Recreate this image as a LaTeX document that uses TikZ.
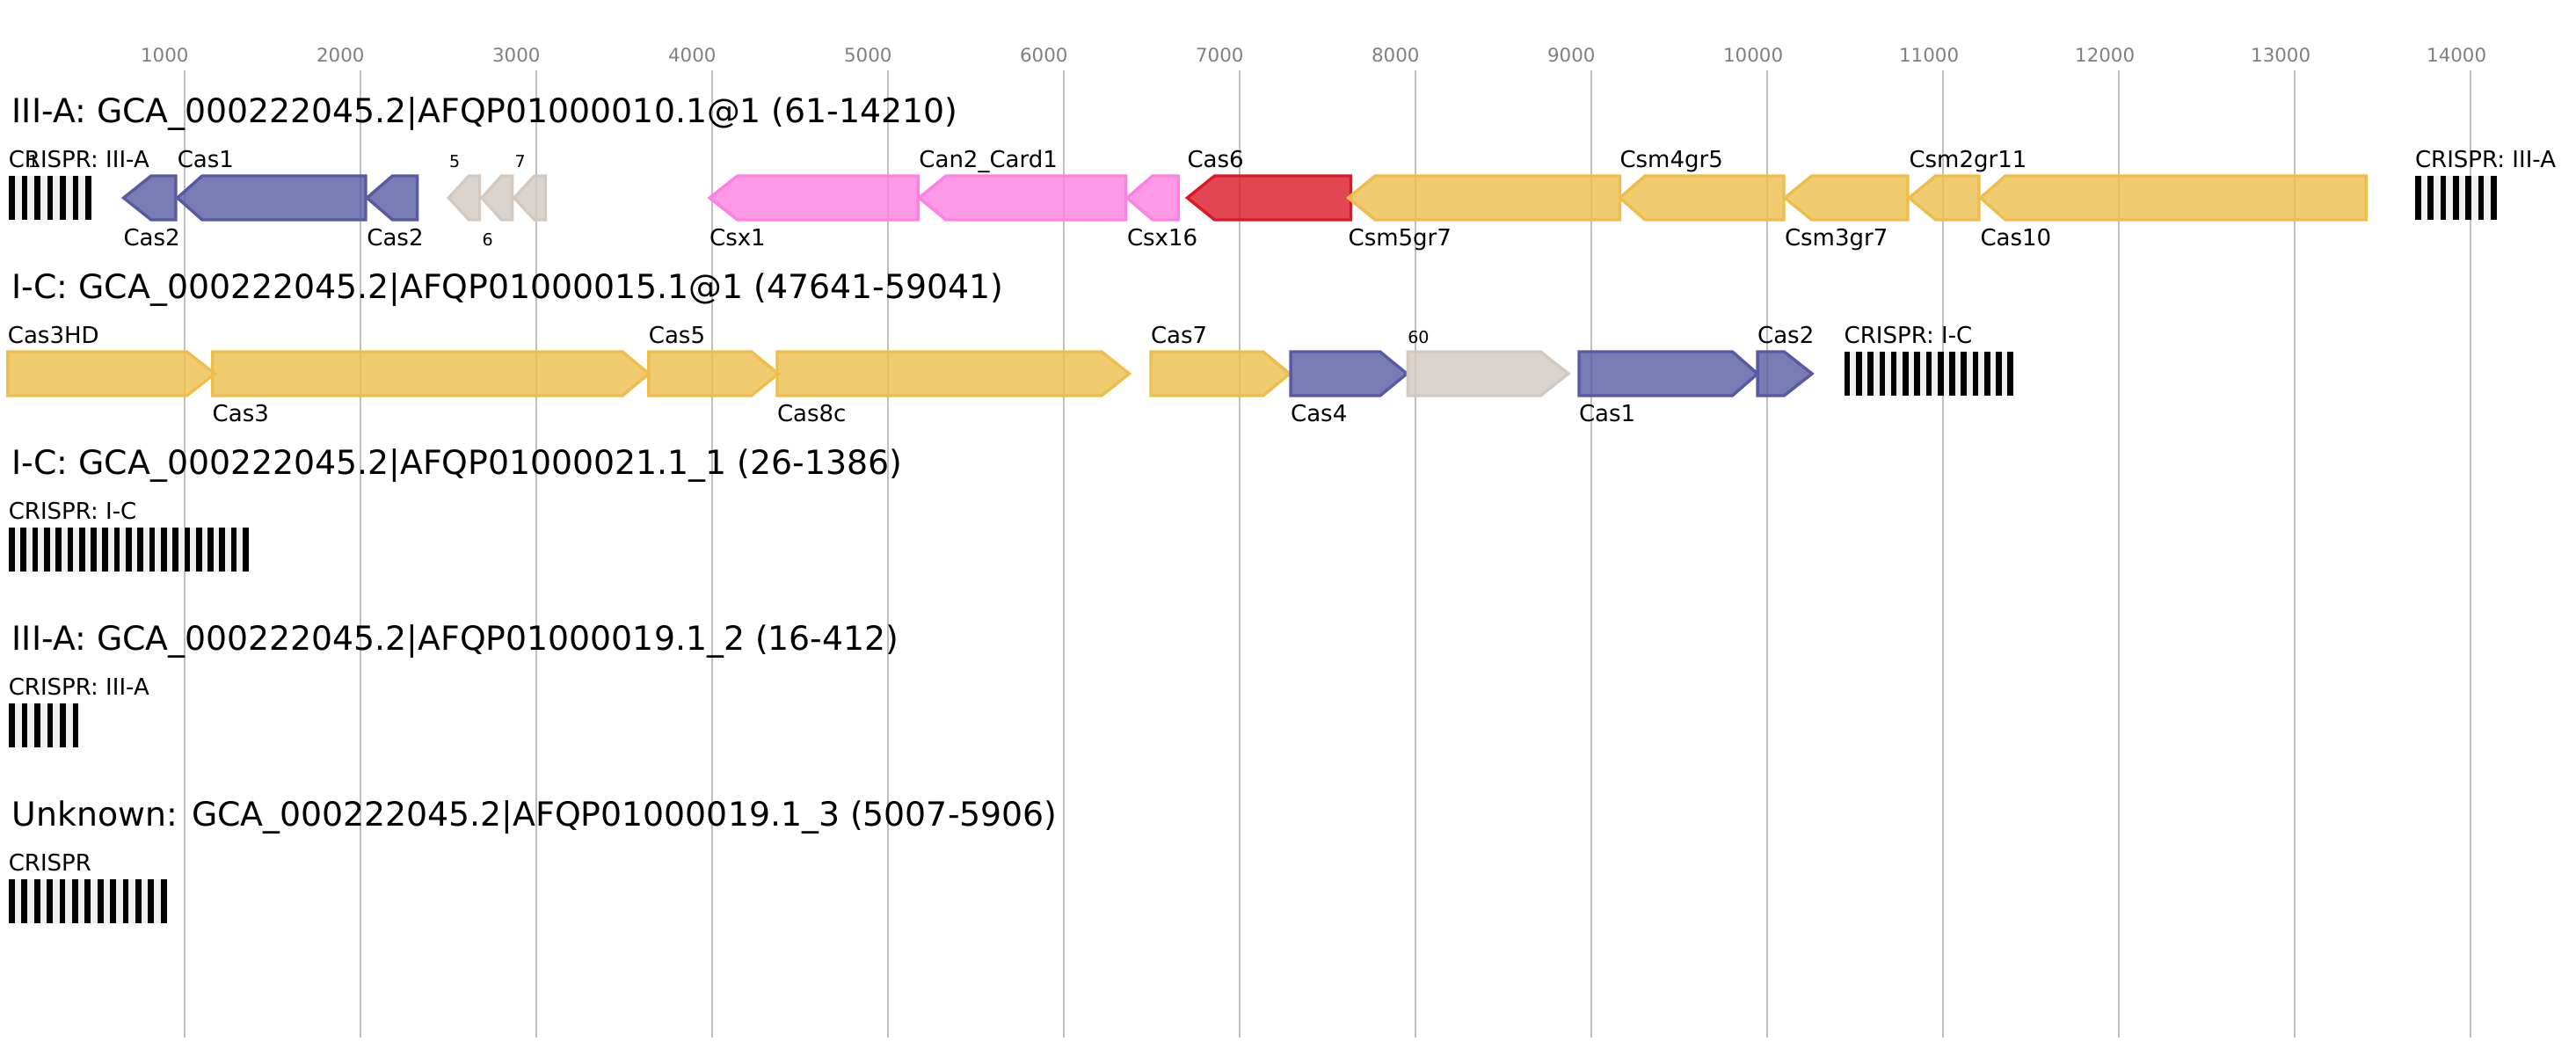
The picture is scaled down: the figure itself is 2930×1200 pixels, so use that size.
\documentclass[tikz,border=0pt]{standalone}
\usepackage{fontspec}
\setmainfont{DejaVu Sans}
\definecolor{cblue}{RGB}{88,90,163}
\definecolor{cyellow}{RGB}{237,190,76}
\definecolor{cpink}{RGB}{254,128,226}
\definecolor{cred}{RGB}{220,24,40}
\definecolor{cgrey}{RGB}{211,201,193}
\definecolor{gridc}{RGB}{192,192,192}
\definecolor{tickc}{RGB}{128,128,128}
\definecolor{crisprbg}{RGB}{240,240,240}
\tikzset{
  every node/.style={inner sep=0pt, outer sep=0pt},
  ttl/.style={anchor=base west, font=\fontsize{9.45}{11}\selectfont},
  lab/.style={anchor=base west, font=\fontsize{6.5}{8}\selectfont},
  sml/.style={anchor=base west, font=\fontsize{4.75}{6}\selectfont},
  tick/.style={anchor=base west, font=\fontsize{5.35}{6.5}\selectfont, text=tickc},
  gene/.style={line width=0.85pt, fill opacity=0.8, line join=miter},
  gridl/.style={draw=gridc, line width=0.5pt},
}
% left-pointing gene: tip, head base, end, top y, colour
\newcommand\GeneL[5]{%
  \filldraw[gene, draw=#5, fill=#5] ({#1},{#4+25}) -- ({#2},{#4}) -- ({#3},{#4}) -- ({#3},{#4+50}) -- ({#2},{#4+50}) -- cycle;}
% right-pointing gene: start, head base, tip, top y, colour
\newcommand\GeneR[5]{%
  \filldraw[gene, draw=#5, fill=#5] ({#1},{#4}) -- ({#2},{#4}) -- ({#3},{#4+25}) -- ({#2},{#4+50}) -- ({#1},{#4+50}) -- cycle;}
% CRISPR array: x0, top y, number of repeats, period
\newcommand\CrisprArr[4]{%
  \fill[crisprbg] ({#1},{#2}) rectangle ({#1+(#3-1)*#4+6.7},{#2+50});
  \foreach \rr in {1,...,#3} {\fill[black] ({#1+(\rr-1)*#4},{#2}) rectangle ({#1+(\rr-1)*#4+6.7},{#2+50});}}
\begin{document}
\begin{tikzpicture}[x=0.25pt, y=-0.25pt]
\fill[white] (0,0) rectangle (2930,1200);
\useasboundingbox (0,0) rectangle (2930,1200);
% grid and axis
\foreach \k in {1,...,14} {
  \draw[gridl] ({9.6+200*\k},80) -- ({9.6+200*\k},1180);
  \node[tick] (tick\k) at ({9.6+200*\k-49.5},70) {\k000};
}
% ---------- row 1 ----------
\node[ttl] (title1) at (13.8,139) {III-A: GCA\_000222045.2|AFQP01000010.1@1 (61-14210)};
\GeneL{140.6}{171.9}{200}{200}{cblue}
\GeneL{201.8}{229.9}{416}{200}{cblue}
\GeneL{417.4}{446.4}{474.6}{200}{cblue}
\GeneL{510.3}{533.5}{545.5}{200}{cgrey}
\GeneL{548}{570.5}{582.6}{200}{cgrey}
\GeneL{584.8}{608}{620.5}{200}{cgrey}
\GeneL{807.1}{838.8}{1044.4}{200}{cpink}
\GeneL{1045.4}{1076}{1280.6}{200}{cpink}
\GeneL{1282}{1311}{1340.3}{200}{cpink}
\GeneL{1350.5}{1381.5}{1536.5}{200}{cred}
\GeneL{1533.6}{1564}{1842.5}{200}{cyellow}
\GeneL{1842.5}{1871}{2029}{200}{cyellow}
\GeneL{2030}{2060.6}{2169.8}{200}{cyellow}
\GeneL{2171.5}{2201.6}{2250.9}{200}{cyellow}
\GeneL{2252.5}{2281}{2691.3}{200}{cyellow}
\CrisprArr{10}{200}{7}{14.5}
\CrisprArr{2747}{200}{7}{14.35}
\node[lab] (r1crA) at (9.8,190) {CRISPR: III-A};
\node[sml] (r1g1) at (32,190) {1};
\node[lab] (r1cas2a) at (140.6,279) {Cas2};
\node[lab] (r1cas1) at (201.8,190) {Cas1};
\node[lab] (r1cas2b) at (417.4,279) {Cas2};
\node[sml] (r1g5) at (511,190) {5};
\node[sml] (r1g6) at (548.5,279) {6};
\node[sml] (r1g7) at (585.5,190) {7};
\node[lab] (r1csx1) at (807.1,279) {Csx1};
\node[lab] (r1can2) at (1045.4,190) {Can2\_Card1};
\node[lab] (r1csx16) at (1282,279) {Csx16};
\node[lab] (r1cas6) at (1350.5,190) {Cas6};
\node[lab] (r1csm5) at (1533.6,279) {Csm5gr7};
\node[lab] (r1csm4) at (1842.5,190) {Csm4gr5};
\node[lab] (r1csm3) at (2030,279) {Csm3gr7};
\node[lab] (r1csm2) at (2171.5,190) {Csm2gr11};
\node[lab] (r1cas10) at (2252.5,279) {Cas10};
\node[lab] (r1crB) at (2747,190) {CRISPR: III-A};
% ---------- row 2 ----------
\node[ttl] (title2) at (13.8,339) {I-C: GCA\_000222045.2|AFQP01000015.1@1 (47641-59041)};
\GeneR{8.9}{212.4}{244.3}{400}{cyellow}
\GeneR{241.7}{708}{737.9}{400}{cyellow}
\GeneR{737.9}{854.6}{885.2}{400}{cyellow}
\GeneR{884}{1253}{1284.4}{400}{cyellow}
\GeneR{1309}{1436.6}{1467}{400}{cyellow}
\GeneR{1468.1}{1569.7}{1600.2}{400}{cblue}
\GeneR{1601.3}{1752.3}{1783.9}{400}{cgrey}
\GeneR{1796}{1970.4}{1999.1}{400}{cblue}
\GeneR{1999.1}{2029.3}{2061}{400}{cblue}
\CrisprArr{2097.7}{400}{15}{13.26}
\node[lab] (r2cas3hd) at (8.9,390) {Cas3HD};
\node[lab] (r2cas3) at (241.7,479) {Cas3};
\node[lab] (r2cas5) at (737.9,390) {Cas5};
\node[lab] (r2cas8c) at (884,479) {Cas8c};
\node[lab] (r2cas7) at (1309,390) {Cas7};
\node[lab] (r2cas4) at (1468.1,479) {Cas4};
\node[sml] (r2g60) at (1601.3,390) {60};
\node[lab] (r2cas1) at (1796,479) {Cas1};
\node[lab] (r2cas2) at (1999.1,390) {Cas2};
\node[lab] (r2cr) at (2097.7,390) {CRISPR: I-C};
% ---------- row 3 ----------
\node[ttl] (title3) at (13.8,539) {I-C: GCA\_000222045.2|AFQP01000021.1\_1 (26-1386)};
\CrisprArr{10}{600}{21}{13.3}
\node[lab] (r3cr) at (9.8,590) {CRISPR: I-C};
% ---------- row 4 ----------
\node[ttl] (title4) at (13.8,739) {III-A: GCA\_000222045.2|AFQP01000019.1\_2 (16-412)};
\CrisprArr{10}{800}{6}{14.5}
\node[lab] (r4cr) at (9.8,790) {CRISPR: III-A};
% ---------- row 5 ----------
\node[ttl] (title5) at (13.8,939) {Unknown: GCA\_000222045.2|AFQP01000019.1\_3 (5007-5906)};
\CrisprArr{10}{1000}{13}{14.4}
\node[lab] (r5cr) at (9.8,990) {CRISPR};
\end{tikzpicture}
\end{document}
